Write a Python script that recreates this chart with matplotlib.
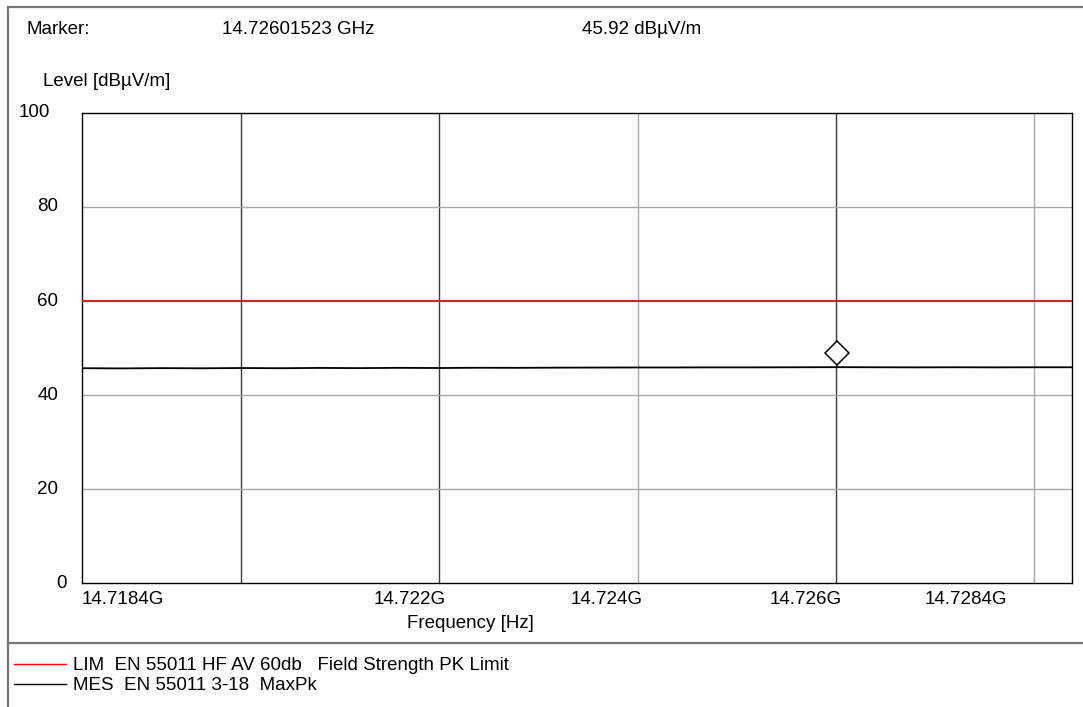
import matplotlib
matplotlib.use("Agg")
import matplotlib.pyplot as plt
import matplotlib.transforms as mtransforms
from matplotlib.lines import Line2D

plt.rcParams['font.family'] = ['Liberation Sans', 'DejaVu Sans']

W, H = 1083, 707
FS = 13.5

# ---- data -------------------------------------------------------------
f_start, f_stop = 14.7184, 14.72838          # GHz
limit_level = 60.0                            # dBµV/m
marker_freq = 14.72601523                     # GHz
marker_level = 45.92                          # dBµV/m

trace_freq = [14.7184, 14.7188, 14.7192, 14.7196, 14.7200, 14.7204, 14.7208,
              14.7212, 14.7216, 14.7220, 14.7224, 14.7228, 14.7232, 14.7236,
              14.7240, 14.7244, 14.7248, 14.7252, 14.7256, 14.72601523,
              14.7264, 14.7268, 14.7272, 14.7276, 14.7280, 14.72838]
trace_level = [45.70, 45.66, 45.72, 45.68, 45.74, 45.70, 45.76, 45.72, 45.78,
               45.74, 45.80, 45.78, 45.82, 45.84, 45.86, 45.86, 45.88, 45.88,
               45.90, 45.92, 45.90, 45.88, 45.90, 45.88, 45.90, 45.90]

grid_freq = [14.720, 14.722, 14.724, 14.726, 14.728]
grid_dark = [True, True, False, True, False]
y_ticks = [0, 20, 40, 60, 80, 100]
y_label_pad = [15, 24, 24, 24, 24, 32]        # px from axis to label edge
x_tick_pos = [14.7184, 14.721706, 14.723692, 14.725698, 14.727311]
x_tick_text = ["14.7184G", "14.722G", "14.724G", "14.726G", "14.7284G"]

legend_entries = [("red", "LIM  EN 55011 HF AV 60db   Field Strength PK Limit"),
                  ("black", "MES  EN 55011 3-18  MaxPk")]

# ---- figure -----------------------------------------------------------
fig = plt.figure(figsize=(W / 100, H / 100), dpi=100)
fig.patch.set_facecolor("white")

def fx(px):
    return px / W

def fy(py):
    return 1 - py / H

ax_l, ax_r, ax_t, ax_b = 82, 1072, 113, 583
ax = fig.add_axes([fx(ax_l), fy(ax_b), fx(ax_r - ax_l), (ax_b - ax_t) / H])
ax.set_xlim(f_start, f_stop)
ax.set_ylim(0, 100)
ax.set_xticks([])
ax.set_yticks([])
for s in ax.spines.values():
    s.set_linewidth(1.0)
    s.set_color("black")

# grid
for g, dark in zip(grid_freq, grid_dark):
    ax.axvline(g, color="#3a3a3a" if dark else "#a8a8a8", lw=1.0, zorder=1)
for yv in y_ticks[1:-1]:
    ax.axhline(yv, color="#a8a8a8", lw=1.0, zorder=1)

# limit and measurement
ax.plot([f_start, f_stop], [limit_level, limit_level], color="#e01010", lw=1.3, zorder=3)
ax.plot(trace_freq, trace_level, color="black", lw=1.3, zorder=3)

# marker diamond sits just above the trace point
mk_tr = mtransforms.offset_copy(ax.transData, fig=fig, x=0, y=14, units="dots")
ax.plot([marker_freq], [marker_level], marker="D", ms=12, mfc="white",
        mec="black", mew=1.1, transform=mk_tr, zorder=4, clip_on=False)

# y tick labels
for yv, pad in zip(y_ticks, y_label_pad):
    tr = mtransforms.offset_copy(ax.get_yaxis_transform(), fig=fig, x=-pad, y=0, units="dots")
    ax.text(0, yv, str(yv), transform=tr, ha="right", va="center", fontsize=FS)

# x tick labels
for xv, txt in zip(x_tick_pos, x_tick_text):
    tr = mtransforms.offset_copy(ax.get_xaxis_transform(), fig=fig, x=0, y=-16, units="dots")
    ax.text(xv, 0, txt, transform=tr, ha="left" if xv == f_start else "center",
            va="center", fontsize=FS)

# header texts
fig.text(fx(27), fy(29), "Marker:", ha="left", va="center", fontsize=FS)
fig.text(fx(222), fy(29), f"{marker_freq:.8f} GHz", ha="left", va="center", fontsize=FS)
fig.text(fx(582), fy(29), f"{marker_level:.2f} dBµV/m", ha="left", va="center", fontsize=FS)
fig.text(fx(43), fy(82), "Level [dBµV/m]", ha="left", va="center", fontsize=FS)
fig.text(fx(470), fy(623), "Frequency [Hz]", ha="center", va="center", fontsize=FS)

# frame lines
frame_c = "#767676"
fig.add_artist(Line2D([fx(8), fx(8)], [fy(7), 0], color=frame_c, lw=1.6))
fig.add_artist(Line2D([fx(8), 1], [fy(7), fy(7)], color=frame_c, lw=1.6))
fig.add_artist(Line2D([fx(8), 1], [fy(643), fy(643)], color=frame_c, lw=1.6))

# legend rows
for i, (c, txt) in enumerate(legend_entries):
    yl = 664 + i * 20
    fig.add_artist(Line2D([fx(14), fx(66)], [fy(yl), fy(yl)], color=c, lw=1.0))
    fig.text(fx(73), fy(yl + 1), txt, ha="left", va="center", fontsize=FS)

fig.savefig("out.png", dpi=100)
